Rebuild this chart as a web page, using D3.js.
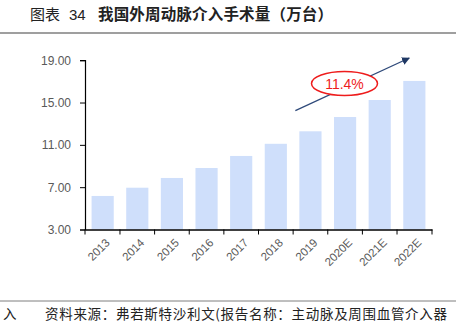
<!DOCTYPE html>
<html><head><meta charset="utf-8">
<script src="https://cdn.jsdelivr.net/npm/d3@7"></script>
<style>
body{margin:0;background:#fff;}
svg{display:block;}
</style></head>
<body>
<script>
const categories = ["2013","2014","2015","2016","2017","2018","2019","2020E","2021E","2022E"];
const values = [6.17, 6.95, 7.87, 8.81, 9.95, 11.1, 12.28, 13.63, 15.24, 17.04];
const yTicks = [3, 7, 11, 15, 19];
const titlePrefix = "图表";
const titleNumber = "34";
const titleText = "我国外周动脉介入手术量（万台）";
const growthLabel = "11.4%";
const sourceText = "资料来源：弗若斯特沙利文(报告名称：主动脉及周围血管介入器";

const W = 468, H = 329;
const svg = d3.select("body").append("svg").attr("width", W).attr("height", H);

const x = d3.scaleBand().domain(categories).range([85, 432]).paddingInner(0.36).paddingOuter(0.19);
const y = d3.scaleLinear().domain([3, 19]).range([229.5, 60.2]);

// title
const tf = "'Noto Sans CJK SC', sans-serif";
svg.append("text").attr("x", 30).attr("y", 20).attr("font-family", tf).attr("font-size", 15)
  .attr("fill", "#222").text(titlePrefix);
svg.append("text").attr("x", 69).attr("y", 20).attr("font-family", "'Liberation Sans', Arial, sans-serif")
  .attr("font-size", 15).attr("fill", "#222").text(titleNumber);
svg.append("text").attr("x", 98).attr("y", 20).attr("font-family", tf).attr("font-size", 15.5).attr("font-weight", 600)
  .attr("fill", "#222").attr("textLength", 235).attr("lengthAdjust", "spacing").text(titleText);
svg.append("line").attr("x1", 0).attr("x2", 456).attr("y1", 33).attr("y2", 33)
  .attr("stroke", "#7f7f7f").attr("stroke-width", 1.5);

// bars
svg.append("g").selectAll("rect").data(values).join("rect")
  .attr("x", (d, i) => x(categories[i]))
  .attr("width", x.bandwidth())
  .attr("y", d => y(d))
  .attr("height", d => y(3) - y(d))
  .attr("fill", "#cfdffb");

// y axis
const yAxis = svg.append("g").attr("transform", "translate(85,0)")
  .call(d3.axisLeft(y).tickValues(yTicks).tickFormat(d3.format(".2f")).tickSizeOuter(0).tickSize(5));
yAxis.select(".domain").attr("stroke", "#000").attr("stroke-width", 1.2);
yAxis.selectAll(".tick line").attr("stroke", "#000");
yAxis.selectAll("text").attr("font-family", "'Liberation Sans', Arial, sans-serif").attr("font-size", 12)
  .attr("fill", "#595959").attr("x", -14);

// x axis
const xAxis = svg.append("g").attr("transform", `translate(0,${y(3)})`)
  .call(d3.axisBottom(x).tickSize(0).tickSizeOuter(0));
xAxis.select(".domain").attr("stroke", "#000").attr("stroke-width", 1.5);
xAxis.selectAll(".tick text")
  .attr("font-family", "'Liberation Sans', Arial, sans-serif").attr("font-size", 11.5)
  .attr("fill", "#595959")
  .attr("text-anchor", "end")
  .attr("transform", "translate(5,11) rotate(-45)")
  .attr("dy", "0.35em").attr("y", 0);
// boundary ticks
const bounds = categories.map(c => x(c) - x.step() * x.paddingInner() / 2);
bounds.push(432);
bounds[0] = 85;
svg.append("g").selectAll("line").data(bounds).join("line")
  .attr("x1", d => d).attr("x2", d => d)
  .attr("y1", y(3)).attr("y2", y(3) + 5)
  .attr("stroke", "#000");

// growth arrow
const defs = svg.append("defs");
defs.append("marker").attr("id", "ah").attr("viewBox", "0 0 10 10").attr("refX", 9).attr("refY", 5)
  .attr("markerWidth", 8).attr("markerHeight", 8).attr("markerUnits", "userSpaceOnUse").attr("orient", "auto")
  .append("path").attr("d", "M0,0 L10,5 L0,10 Z").attr("fill", "#1f3864");
svg.append("line").attr("x1", x("2019") - 4).attr("y1", 110.7).attr("x2", x("2022E") + 6).attr("y2", 58)
  .attr("stroke", "#2f4a7a").attr("stroke-width", 1.3).attr("marker-end", "url(#ah)");
svg.append("ellipse").attr("cx", 344.5).attr("cy", 83.5).attr("rx", 33).attr("ry", 12)
  .attr("fill", "#fff").attr("stroke", "#ee1c1c").attr("stroke-width", 1.5);
svg.append("text").attr("x", 344.5).attr("y", 88.5).attr("text-anchor", "middle")
  .attr("font-family", "'Liberation Sans', Arial, sans-serif").attr("font-size", 14)
  .attr("fill", "#ee1c1c").text(growthLabel);

// footer
svg.append("line").attr("x1", 0).attr("x2", 456).attr("y1", 301).attr("y2", 301)
  .attr("stroke", "#7f7f7f").attr("stroke-width", 1);
svg.append("text").attr("x", 3).attr("y", 319)
  .attr("font-family", tf).attr("font-size", 13.5).attr("fill", "#222").text("入");
svg.append("text").attr("x", 45).attr("y", 319)
  .attr("font-family", tf).attr("font-size", 13.5).attr("fill", "#222")
  .attr("textLength", 402).attr("lengthAdjust", "spacing").text(sourceText);
</script>
</body></html>
